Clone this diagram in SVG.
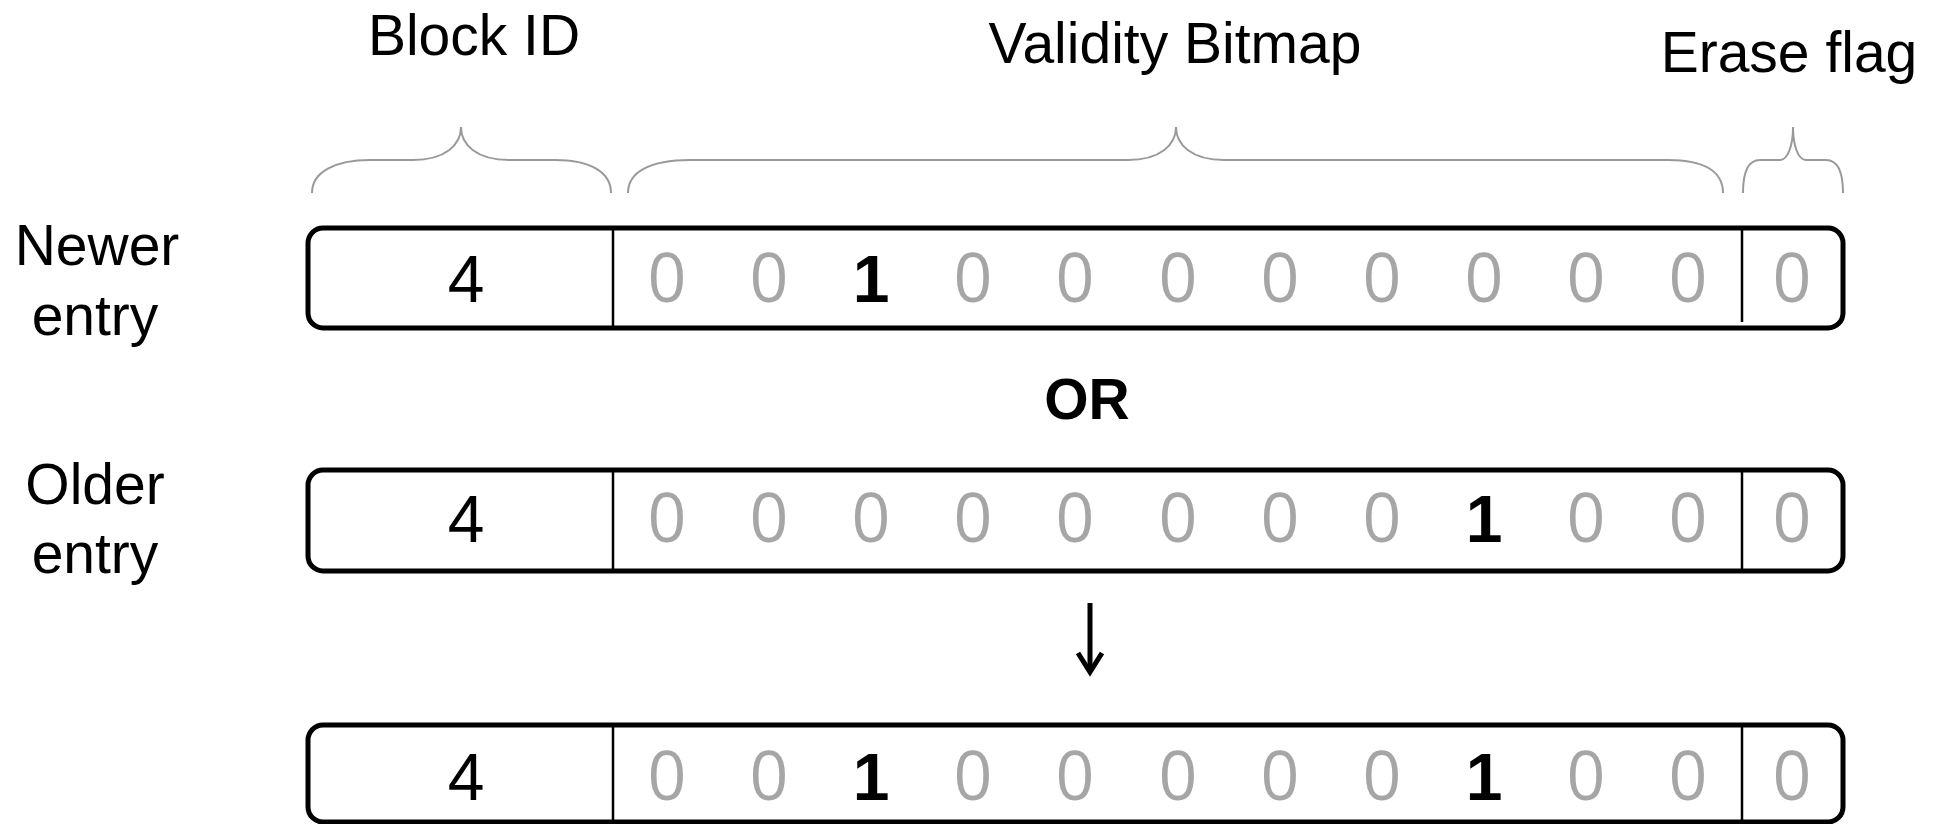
<svg xmlns="http://www.w3.org/2000/svg" width="1942" height="824" viewBox="0 0 1942 824">
<style>
.lbl{font-family:"Liberation Sans",Arial,sans-serif;font-size:57px;fill:#000;text-anchor:middle}
.or{font-family:"Liberation Sans",Arial,sans-serif;font-size:57px;font-weight:bold;fill:#000;text-anchor:middle}
.box{fill:#fff;stroke:#000;stroke-width:5}
.div{stroke:#000;stroke-width:2.5}
.brace{fill:none;stroke:#999;stroke-width:2}
.id{font-family:"Liberation Sans",Arial,sans-serif;font-size:66px;fill:#000;text-anchor:middle}
.z{font-family:"Open Sans","Liberation Sans",sans-serif;font-size:68px;fill:#a6a6a6;text-anchor:middle}
.one{font-family:"Liberation Sans",Arial,sans-serif;font-size:66px;font-weight:bold;fill:#000;text-anchor:middle}
.arrow{fill:none;stroke:#000;stroke-width:5}
</style>
<rect width="1942" height="824" fill="#fff"/>
<g id="headers">
<text class="lbl" x="474" y="55">Block ID</text>
<text class="lbl" x="1175" y="63">Validity Bitmap</text>
<text class="lbl" x="1789" y="72">Erase flag</text>
</g>
<g id="braces">
<path class="brace" d="M312,193 C312,172 335,160 370,160 L413,160 C445,160 461,145 461,127 C461,145 477,160 509,160 L555,160 C590,160 611,172 611,193"/>
<path class="brace" d="M628,193 C628,172 650,160 690,160 L1128,160 C1160,160 1176,145 1176,127 C1176,145 1192,160 1224,160 L1668,160 C1705,160 1723,172 1723,193"/>
<path class="brace" d="M1743,193 C1743,172 1748,160 1760,160 L1780,160 C1788,160 1793,145 1793,127 C1793,145 1798,160 1806,160 L1826,160 C1838,160 1843,172 1843,193"/>
</g>
<g id="row-labels">
<text class="lbl" x="97" y="265">Newer</text>
<text class="lbl" x="95" y="335">entry</text>
<text class="lbl" x="95" y="504">Older</text>
<text class="lbl" x="95" y="573">entry</text>
</g>
<g id="newer-entry">
<rect class="box" x="308" y="228" width="1535" height="100" rx="15"/>
<line class="div" x1="613" y1="228" x2="613" y2="328"/>
<line class="div" x1="1742" y1="228" x2="1742" y2="322"/>
<text class="id" x="466" y="302">4</text>
<text class="z" x="667" y="302">0</text>
<text class="z" x="769" y="302">0</text>
<text class="one" x="871" y="302">1</text>
<text class="z" x="973" y="302">0</text>
<text class="z" x="1075" y="302">0</text>
<text class="z" x="1178" y="302">0</text>
<text class="z" x="1280" y="302">0</text>
<text class="z" x="1382" y="302">0</text>
<text class="z" x="1484" y="302">0</text>
<text class="z" x="1586" y="302">0</text>
<text class="z" x="1688" y="302">0</text>
<text class="z" x="1792" y="302">0</text>
</g>
<g id="or-label">
<text class="or" x="1087" y="419">OR</text>
</g>
<g id="older-entry">
<rect class="box" x="308" y="470" width="1535" height="101" rx="15"/>
<line class="div" x1="613" y1="470" x2="613" y2="571"/>
<line class="div" x1="1742" y1="470" x2="1742" y2="571"/>
<text class="id" x="466" y="542">4</text>
<text class="z" x="667" y="542">0</text>
<text class="z" x="769" y="542">0</text>
<text class="z" x="871" y="542">0</text>
<text class="z" x="973" y="542">0</text>
<text class="z" x="1075" y="542">0</text>
<text class="z" x="1178" y="542">0</text>
<text class="z" x="1280" y="542">0</text>
<text class="z" x="1382" y="542">0</text>
<text class="one" x="1484" y="542">1</text>
<text class="z" x="1586" y="542">0</text>
<text class="z" x="1688" y="542">0</text>
<text class="z" x="1792" y="542">0</text>
</g>
<g id="connectors">
<path class="arrow" d="M1090,603 L1090,672"/>
<path class="arrow" d="M1078,653 L1090,672 L1102,653"/>
</g>
<g id="result-entry">
<rect class="box" x="308" y="725" width="1535" height="97" rx="15"/>
<line class="div" x1="613" y1="725" x2="613" y2="822"/>
<line class="div" x1="1742" y1="725" x2="1742" y2="822"/>
<text class="id" x="466" y="800">4</text>
<text class="z" x="667" y="800">0</text>
<text class="z" x="769" y="800">0</text>
<text class="one" x="871" y="800">1</text>
<text class="z" x="973" y="800">0</text>
<text class="z" x="1075" y="800">0</text>
<text class="z" x="1178" y="800">0</text>
<text class="z" x="1280" y="800">0</text>
<text class="z" x="1382" y="800">0</text>
<text class="one" x="1484" y="800">1</text>
<text class="z" x="1586" y="800">0</text>
<text class="z" x="1688" y="800">0</text>
<text class="z" x="1792" y="800">0</text>
</g>
</svg>
